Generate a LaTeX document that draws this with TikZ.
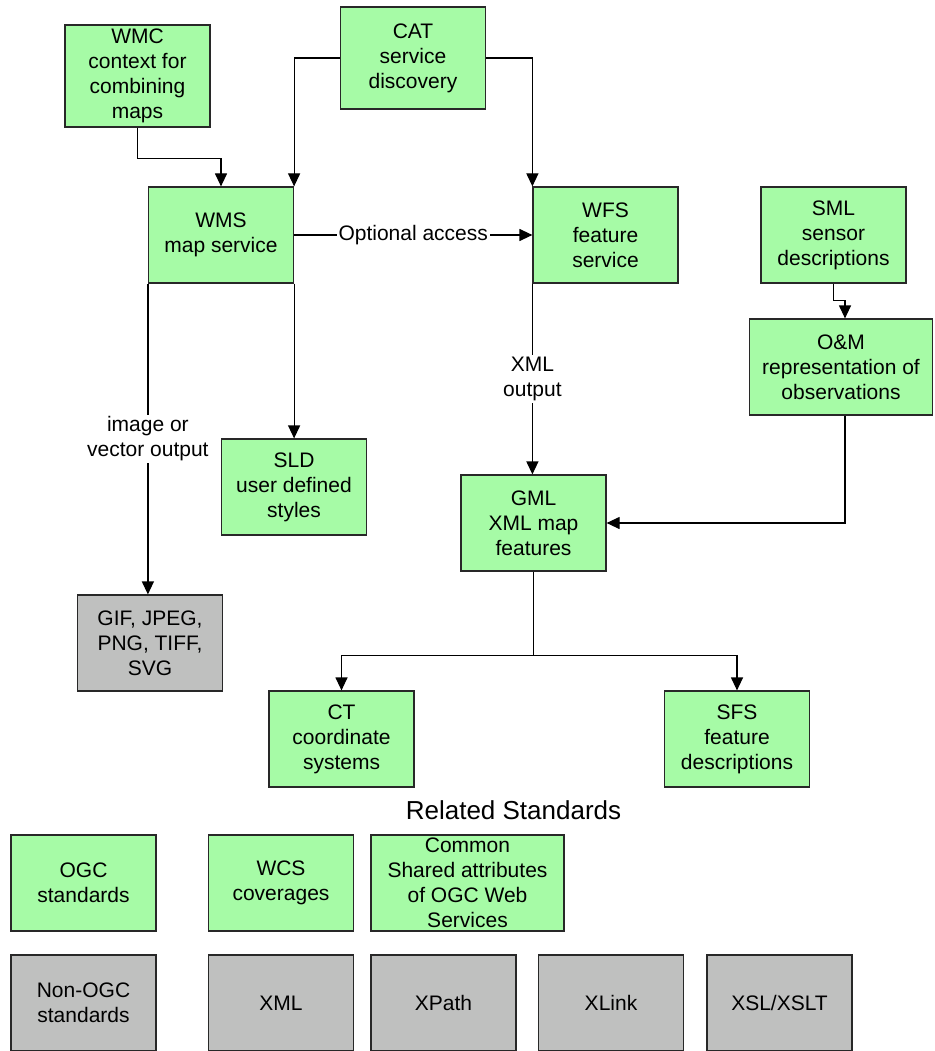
\documentclass[tikz,border=0pt]{standalone}
\usepackage{fontspec}
\setmainfont{Liberation Sans}
\usepackage{xcolor}
\usetikzlibrary{arrows.meta}

\definecolor{boxgreen}{RGB}{166,251,166}
\definecolor{boxgray}{RGB}{191,192,191}
\definecolor{boxline}{RGB}{40,40,40}

\begin{document}
\begin{tikzpicture}
	[x=1pt,y=-1pt, line width=1.2pt,
	every node/.style={font=\fontsize{21}{25}\selectfont, align=center},
	ogc/.style={draw=boxline, fill=boxgreen, minimum width=145pt, minimum height=96pt, inner sep=2pt},
	nonogc/.style={ogc, fill=boxgray},
	link/.style={-{Triangle[length=13pt,width=12pt]}},
	lbl/.style={fill=white, inner sep=2pt}]
	\useasboundingbox (0,0) rectangle (934,1051);

	% services
	\node[ogc, minimum height=102pt] (wmc) at (137.5,76) {WMC\\context for\\combining\\maps};
	\node[ogc, minimum height=102pt] (cat) at (413,58) {CAT\\service\\discovery};
	\node[ogc] (wms) at (221,235) {WMS\\map service};
	\node[ogc] (wfs) at (605.5,235) {WFS\\feature\\service};
	\node[ogc] (sml) at (833.5,235) {SML\\sensor\\descriptions};
	\node[ogc, minimum width=183pt] (om) at (841,367) {O\&M\\representation of\\observations};
	\node[ogc] (sld) at (294,487) {SLD\\user defined\\styles};
	\node[ogc] (gml) at (533.5,523) {GML\\XML map\\features};
	\node[nonogc] (gif) at (150,643) {GIF, JPEG,\\PNG, TIFF,\\SVG};
	\node[ogc] (ct) at (341.5,739) {CT\\coordinate\\systems};
	\node[ogc] (sfs) at (737,739) {SFS\\feature\\descriptions};

	% related standards
	\node[font=\fontsize{26}{30}\selectfont] (related) at (513.5,810) {Related Standards};
	\node[ogc] (ogcstd) at (83.5,883) {OGC\\standards};
	\node[ogc] (wcs) at (281,883) {WCS\\coverages};
	\node[ogc, minimum width=193pt] (common) at (467.5,883) {Common\\Shared attributes\\of OGC Web\\Services};
	\node[nonogc] (nonogcstd) at (83.5,1003) {Non-OGC\\standards};
	\node[nonogc] (xml) at (281,1003) {XML};
	\node[nonogc] (xpath) at (443.5,1003) {XPath};
	\node[nonogc] (xlink) at (611,1003) {XLink};
	\node[nonogc] (xsl) at (779.5,1003) {XSL/XSLT};

	% connectors
	\draw[link] (cat.west) -| (wms.north east);
	\draw[link] (cat.east) -| (wfs.north west);
	\draw[link] (wmc.south) -- ++(0,31) -| (wms.north);
	\draw[link] (wms.east) -- node[lbl] {Optional access} (wfs.west);
	\draw[link] (wms.south west) -- node[lbl] {image or\\vector output} (wms.south west |- gif.north);
	\draw[link] (wms.south east) -- (wms.south east |- sld.north);
	\draw[link] (wfs.south west) -- node[lbl] {XML\\output} (wfs.south west |- gml.north);
	\draw[link] (sml.south) -- ++(0,17) -| ([xshift=4pt]om.north);
	\draw[link] ([xshift=4pt]om.south) |- (gml.east);
	\draw[link] (gml.south) -- ++(0,84) -| (ct.north);
	\draw[link] (gml.south) -- ++(0,84) -| (sfs.north);
\end{tikzpicture}
\end{document}
